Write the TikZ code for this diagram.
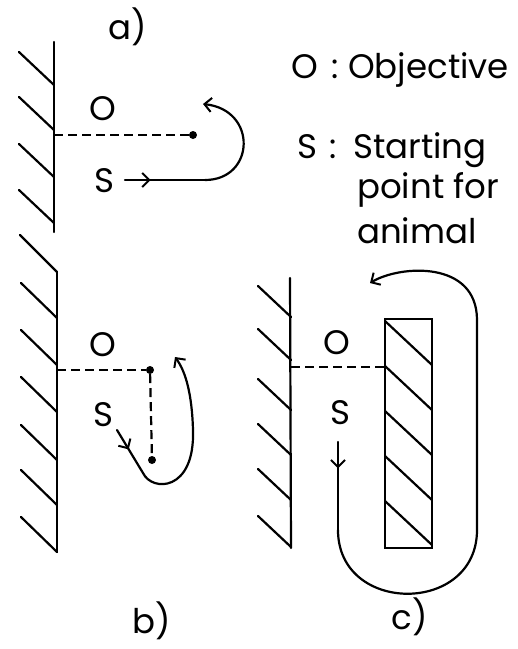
\documentclass[tikz,border=0pt]{standalone}
\usepackage{fontspec}
\setmainfont{Poppins}
\usetikzlibrary{arrows.meta,decorations.markings}
\tikzset{
  ln/.style={line width=2.2pt, line cap=round, line join=round},
  dsh/.style={line width=2.2pt, dash pattern=on 9pt off 5pt},
  lbl/.style={inner sep=0pt, font=\fontsize{34}{36}\selectfont},
  tip/.style={-{Straight Barb[length=7pt,width=14pt,line width=2pt]}},
  midarrow/.style={postaction={decorate}, decoration={markings,
     mark=at position #1 with {\arrow{Straight Barb[length=7pt,width=14pt,line width=2pt]}}}},
  dot/.style={circle, fill=black, inner sep=0pt, minimum size=8pt}
}
\begin{document}
\begin{tikzpicture}[x=1pt,y=-1pt]
\useasboundingbox (0,0) rectangle (518,649);
% ---- labels ----
\node[lbl] (la) at (128,27) {a)};
\node[lbl] (lb) at (152,621) {b)};
\node[lbl] (lc) at (410,617) {c)};
% legend
\node[lbl,anchor=base] (lo) at (305,78) {O};
\node[lbl,anchor=base] (lco) at (335,78) {:};
\node[lbl,anchor=base west] (lobj) at (348,78) {Objective};
\node[lbl,anchor=base] (ls) at (307,158) {S};
\node[lbl,anchor=base] (lcs) at (333,158) {:};
\node[lbl,anchor=base west] (lst) at (353,158) {Starting};
\node[lbl,anchor=base west] (lpt) at (357,198) {point for};
\node[lbl,anchor=base west] (lan) at (357,243) {animal};

% ---- panel a ----
\draw[ln] (54,42) -- (54,232);
\foreach \y in {85,130,177,223} \draw[ln] (54,\y) -- ++(-35,-33);
\node[dot] (adot) at (193,135) {};
\coordinate (awall) at (54,135);
\draw[dsh] (awall) -- (adot);
\node[lbl] (ao) at (103,109) {O};
\node[lbl] (as) at (104,181) {S};
\coordinate (astart) at (125,180);
\coordinate (amid) at (205,180);
\coordinate (aend) at (203,104);
\draw[ln,midarrow=0.32] (astart) -- (amid);
\draw[ln,tip] (amid) .. controls (255,180) and (258,110) .. (aend);

% ---- panel b ----
\draw[ln] (57,272) -- (57,552);
\draw[ln] (57,272) -- ++(-37,-37);
\foreach \y in {318,365,412,460,505,552} \draw[ln] (57,\y) -- ++(-36,-35);
\node[dot] (bdot1) at (150,370) {};
\node[dot] (bdot2) at (152,460) {};
\coordinate (bwall) at (57,370);
\draw[dsh] (bwall) -- (bdot1);
\draw[dsh] (bdot1) -- (bdot2);
\node[lbl] (bo) at (103,345) {O};
\node[lbl] (bs) at (103,415) {S};
\coordinate (bstart) at (117,430);
\coordinate (bmid) at (143,473);
\coordinate (bend) at (175,357);
\draw[ln,midarrow=0.45] (bstart) -- (bmid);
\draw[ln,tip] (bmid) .. controls (152,492) and (195,492) .. (193,430)
   .. controls (192,395) and (186,372) .. (bend);

% ---- panel c ----
\draw[ln] (290,278) -- (291,548);
\foreach \y in {317,360,410,455,500,547} \draw[ln] (291,\y) -- ++(-33,-31);
\node[draw, line width=2.2pt, minimum width=47pt, minimum height=229pt, inner sep=0pt] (rect) at (408.5,433.5) {};
\begin{scope}
\clip (rect.north west) rectangle (rect.south east);
\foreach \y in {321,366,411,456,501} \draw[ln] (385,\y) -- ++(47,44);
\end{scope}
\coordinate (cwall) at (291,367);
\draw[dsh] (cwall) -- (rect.west |- cwall);
\node[lbl] (co) at (337,343) {O};
\node[lbl] (cs) at (340,413) {S};
\coordinate (cstart) at (338,442);
\coordinate (cturn) at (338,530);
\coordinate (cend) at (370,283);
\draw[ln,midarrow=0.3] (cstart) -- (cturn);
\draw[ln,tip] (cturn) .. controls (338,615) and (477,615) .. (477,530)
   -- (477,320) .. controls (477,260) and (400,265) .. (cend);
\end{tikzpicture}
\end{document}
